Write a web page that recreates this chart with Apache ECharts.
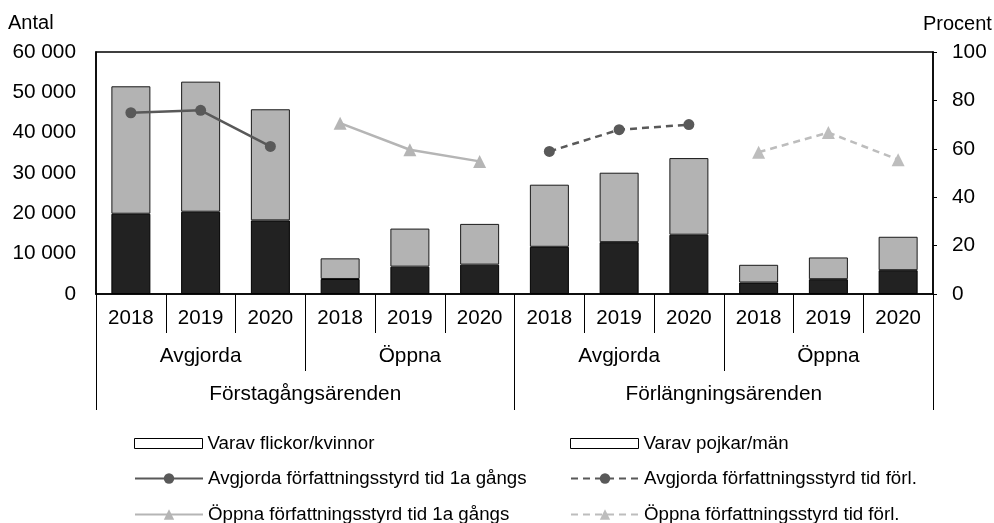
<!DOCTYPE html>
<html>
<head>
<meta charset="utf-8">
<script src="https://cdn.jsdelivr.net/npm/echarts@6/dist/echarts.min.js"></script>
<style>
  html, body { margin: 0; padding: 0; background: #fff; }
  #chart { width: 994px; height: 523px; }
</style>
</head>
<body>
<div id="chart"></div>
<script>
// kategorier
var years = ['2018', '2019', '2020', '2018', '2019', '2020', '2018', '2019', '2020', '2018', '2019', '2020'];
var statusGroups = ['Avgjorda', 'Öppna', 'Avgjorda', 'Öppna'];
var caseGroups = ['Förstagångsärenden', 'Förlängningsärenden'];

// antal (vänster axel)
var flickor = [19900, 20400, 18250, 3720, 6780, 7280, 11700, 12850, 14700, 2850, 3670, 5900];
var pojkar = [31600, 32250, 27550, 5120, 9440, 10100, 15400, 17220, 19000, 4390, 5390, 8290];

// procent (höger axel)
var avgjorda1a = [74.9, 75.9, 61, null, null, null, null, null, null, null, null, null];
var oppna1a = [null, null, null, 70.6, 59.6, 54.8, null, null, null, null, null, null];
var avgjordaForl = [null, null, null, null, null, null, 58.9, 67.9, 70, null, null, null];
var oppnaForl = [null, null, null, null, null, null, null, null, null, 58.6, 66.7, 55.5];

var leftTicks = [0, 10000, 20000, 30000, 40000, 50000, 60000];

var chartDom = document.getElementById('chart');
var myChart = echarts.init(chartDom);
var font = 'Liberation Sans, Arial, sans-serif';
var axisFont = 20.8;

var whiteIcon = { color: '#fff', borderColor: '#000', borderWidth: 1 };

// en legend per post, två kolumner x tre rader
function legendItem(item, left, top, h) {
    return {
        left: left,
        top: top,
        padding: 0,
        itemWidth: 68,
        itemHeight: h,
        textStyle: { fontFamily: font, fontSize: 18.7, color: '#000' },
        data: [item]
    };
}

var option = {
    animation: false,
    textStyle: { fontFamily: font, color: '#000' },
    title: [
        { text: 'Antal', left: 8, top: 13, padding: 0,
          textStyle: { fontFamily: font, fontSize: 20, fontWeight: 'normal', color: '#000' } },
        { text: 'Procent', left: 923, top: 14, padding: 0,
          textStyle: { fontFamily: font, fontSize: 20, fontWeight: 'normal', color: '#000' } }
    ],
    grid: {
        left: 96,
        right: 61,
        top: 52,
        height: 242,
        show: true,
        borderColor: '#000',
        borderWidth: 1.5
    },
    legend: [
        legendItem({ name: 'Varav flickor/kvinnor', icon: 'rect', itemStyle: whiteIcon }, 134, 434, 10),
        legendItem('Avgjorda författningsstyrd tid 1a gångs', 134, 469, 13),
        legendItem('Öppna författningsstyrd tid 1a gångs', 134, 505, 13),
        legendItem({ name: 'Varav pojkar/män', icon: 'rect', itemStyle: whiteIcon }, 570, 434, 10),
        legendItem('Avgjorda författningsstyrd tid förl.', 570, 469, 13),
        legendItem('Öppna författningsstyrd tid förl.', 570, 505, 13)
    ],
    xAxis: [
        {
            type: 'category',
            position: 'bottom',
            data: years,
            axisLine: { show: true, lineStyle: { color: '#000', width: 1.5 } },
            axisTick: { show: true, length: 39, interval: 0, lineStyle: { color: '#000', width: 1 } },
            axisLabel: { interval: 0, margin: 14, fontSize: 20.5, color: '#000', fontFamily: font }
        },
        {
            type: 'category',
            position: 'bottom',
            data: statusGroups,
            axisLine: { show: false },
            axisTick: { show: true, length: 77, interval: 0, lineStyle: { color: '#000', width: 1 } },
            axisLabel: { interval: 0, margin: 52, fontSize: axisFont, color: '#000', fontFamily: font }
        },
        {
            type: 'category',
            position: 'bottom',
            data: caseGroups,
            axisLine: { show: false },
            axisTick: { show: true, length: 116, interval: 0, lineStyle: { color: '#000', width: 1 } },
            axisLabel: { interval: 0, margin: 90, fontSize: axisFont, color: '#000', fontFamily: font }
        }
    ],
    yAxis: [
        {
            type: 'value',
            position: 'left',
            min: 0,
            max: 60000,
            interval: 10000,
            splitLine: { show: false },
            axisLine: { show: true, lineStyle: { color: '#000', width: 1.5 } },
            axisTick: { show: false },
            axisLabel: {
                margin: 20,
                fontSize: axisFont,
                color: '#000',
                fontFamily: font,
                formatter: function (value) {
                    return leftTicks.indexOf(value) < 0 ? '' : String(value).replace(/\B(?=(\d{3})+(?!\d))/g, ' ');
                }
            }
        },
        {
            type: 'value',
            position: 'right',
            min: 0,
            max: 100,
            interval: 20,
            splitLine: { show: false },
            axisLine: { show: true, lineStyle: { color: '#000', width: 1.5 } },
            axisTick: { show: true, length: 4, lineStyle: { color: '#000' } },
            axisLabel: { margin: 19, fontSize: axisFont, color: '#000', fontFamily: font }
        }
    ],
    series: [
        {
            name: 'Varav flickor/kvinnor',
            type: 'bar',
            stack: 'antal',
            barWidth: 39,
            itemStyle: { color: '#222222', borderColor: '#000', borderWidth: 1 },
            data: flickor
        },
        {
            name: 'Varav pojkar/män',
            type: 'bar',
            stack: 'antal',
            barWidth: 39,
            itemStyle: { color: '#b3b3b3', borderColor: '#1a1a1a', borderWidth: 1 },
            data: pojkar
        },
        {
            name: 'Avgjorda författningsstyrd tid 1a gångs',
            type: 'line',
            yAxisIndex: 1,
            symbol: 'circle',
            symbolSize: 11,
            itemStyle: { color: '#595959' },
            lineStyle: { color: '#595959', width: 2.5 },
            data: avgjorda1a
        },
        {
            name: 'Öppna författningsstyrd tid 1a gångs',
            type: 'line',
            yAxisIndex: 1,
            symbol: 'triangle',
            symbolSize: 13,
            itemStyle: { color: '#b5b5b5' },
            lineStyle: { color: '#b5b5b5', width: 2.5 },
            data: oppna1a
        },
        {
            name: 'Avgjorda författningsstyrd tid förl.',
            type: 'line',
            yAxisIndex: 1,
            symbol: 'circle',
            symbolSize: 11,
            itemStyle: { color: '#595959' },
            lineStyle: { color: '#595959', width: 2.5, type: [7, 5] },
            data: avgjordaForl
        },
        {
            name: 'Öppna författningsstyrd tid förl.',
            type: 'line',
            yAxisIndex: 1,
            symbol: 'triangle',
            symbolSize: 13,
            itemStyle: { color: '#bdbdbd' },
            lineStyle: { color: '#bdbdbd', width: 2.5, type: [7, 5] },
            data: oppnaForl
        }
    ]
};
myChart.setOption(option);
</script>
</body>
</html>
